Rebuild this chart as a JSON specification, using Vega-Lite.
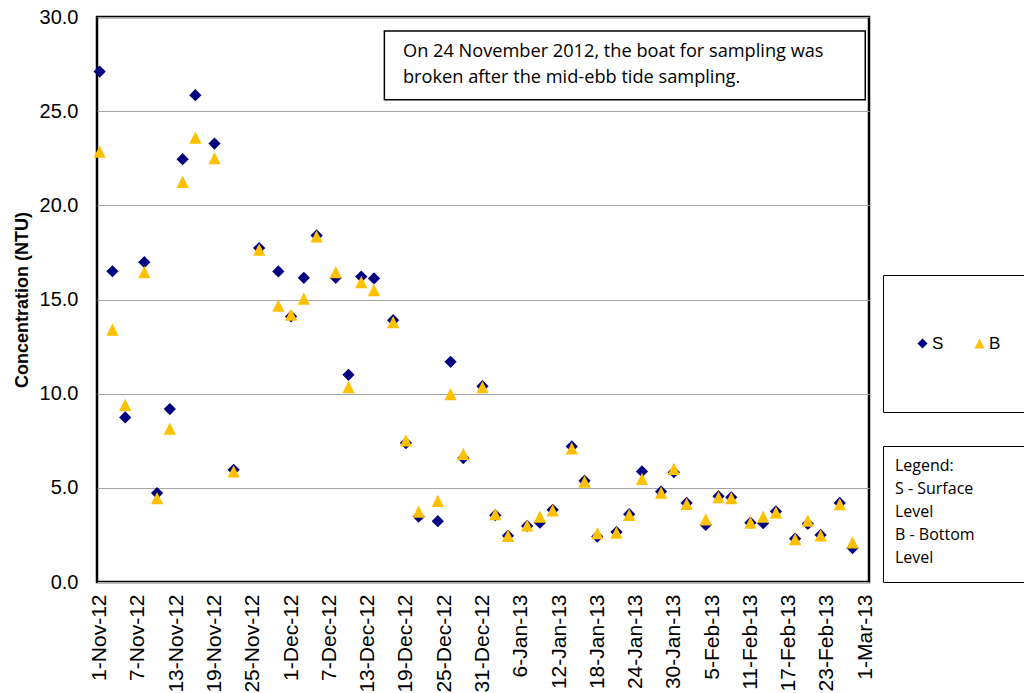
{
  "$schema": "https://vega.github.io/schema/vega-lite/v6.json",
  "autosize": {"type": "none"},
  "padding": {"left": 97, "top": 17, "right": 155, "bottom": 111},
  "width": 772,
  "height": 565,
  "background": "white",
  "config": {
    "view": {"stroke": "black", "strokeWidth": 2.5},
    "font": "Liberation Sans",
    "axis": {"labelOverlap": false, "labelSeparation": 0},
    "axisX": {
      "title": null,
      "orient": "bottom",
      "format": "%-d-%b-%y",
      "labelAngle": 270,
      "labelFont": "Liberation Sans",
      "labelFontSize": 21,
      "labelColor": "black",
      "labelPadding": 12,
      "labelOverlap": false,
      "labelFlush": false,
      "ticks": false,
      "domain": false,
      "grid": false
    }
  },
  "resolve": {"axis": {"x": "independent"}},
  "layer": [
    {
      "data": {"values": [
        {"date": "2012/11/01", "series": "S", "value": 27.1},
        {"date": "2012/11/03", "series": "S", "value": 16.5},
        {"date": "2012/11/05", "series": "S", "value": 8.74},
        {"date": "2012/11/08", "series": "S", "value": 16.98},
        {"date": "2012/11/10", "series": "S", "value": 4.72},
        {"date": "2012/11/12", "series": "S", "value": 9.18},
        {"date": "2012/11/14", "series": "S", "value": 22.45},
        {"date": "2012/11/16", "series": "S", "value": 25.85},
        {"date": "2012/11/19", "series": "S", "value": 23.28},
        {"date": "2012/11/22", "series": "S", "value": 5.96},
        {"date": "2012/11/26", "series": "S", "value": 17.73},
        {"date": "2012/11/29", "series": "S", "value": 16.49},
        {"date": "2012/12/01", "series": "S", "value": 14.1},
        {"date": "2012/12/03", "series": "S", "value": 16.15},
        {"date": "2012/12/05", "series": "S", "value": 18.4},
        {"date": "2012/12/08", "series": "S", "value": 16.15},
        {"date": "2012/12/10", "series": "S", "value": 11.0},
        {"date": "2012/12/12", "series": "S", "value": 16.22},
        {"date": "2012/12/14", "series": "S", "value": 16.12},
        {"date": "2012/12/17", "series": "S", "value": 13.9},
        {"date": "2012/12/19", "series": "S", "value": 7.38},
        {"date": "2012/12/21", "series": "S", "value": 3.47},
        {"date": "2012/12/24", "series": "S", "value": 3.23},
        {"date": "2012/12/26", "series": "S", "value": 11.69},
        {"date": "2012/12/28", "series": "S", "value": 6.58},
        {"date": "2012/12/31", "series": "S", "value": 10.4},
        {"date": "2013/01/02", "series": "S", "value": 3.55},
        {"date": "2013/01/04", "series": "S", "value": 2.45},
        {"date": "2013/01/07", "series": "S", "value": 2.98},
        {"date": "2013/01/09", "series": "S", "value": 3.15},
        {"date": "2013/01/11", "series": "S", "value": 3.83},
        {"date": "2013/01/14", "series": "S", "value": 7.2},
        {"date": "2013/01/16", "series": "S", "value": 5.37},
        {"date": "2013/01/18", "series": "S", "value": 2.41},
        {"date": "2013/01/21", "series": "S", "value": 2.65},
        {"date": "2013/01/23", "series": "S", "value": 3.6},
        {"date": "2013/01/25", "series": "S", "value": 5.87},
        {"date": "2013/01/28", "series": "S", "value": 4.8},
        {"date": "2013/01/30", "series": "S", "value": 5.83},
        {"date": "2013/02/01", "series": "S", "value": 4.2},
        {"date": "2013/02/04", "series": "S", "value": 3.03},
        {"date": "2013/02/06", "series": "S", "value": 4.55},
        {"date": "2013/02/08", "series": "S", "value": 4.5},
        {"date": "2013/02/11", "series": "S", "value": 3.15},
        {"date": "2013/02/13", "series": "S", "value": 3.12},
        {"date": "2013/02/15", "series": "S", "value": 3.75},
        {"date": "2013/02/18", "series": "S", "value": 2.3},
        {"date": "2013/02/20", "series": "S", "value": 3.09},
        {"date": "2013/02/22", "series": "S", "value": 2.5},
        {"date": "2013/02/25", "series": "S", "value": 4.2},
        {"date": "2013/02/27", "series": "S", "value": 1.8},
        {"date": "2012/11/01", "series": "B", "value": 22.85},
        {"date": "2012/11/03", "series": "B", "value": 13.4},
        {"date": "2012/11/05", "series": "B", "value": 9.41},
        {"date": "2012/11/08", "series": "B", "value": 16.45},
        {"date": "2012/11/10", "series": "B", "value": 4.45},
        {"date": "2012/11/12", "series": "B", "value": 8.14},
        {"date": "2012/11/14", "series": "B", "value": 21.24},
        {"date": "2012/11/16", "series": "B", "value": 23.6},
        {"date": "2012/11/19", "series": "B", "value": 22.5},
        {"date": "2012/11/22", "series": "B", "value": 5.87},
        {"date": "2012/11/26", "series": "B", "value": 17.65},
        {"date": "2012/11/29", "series": "B", "value": 14.68},
        {"date": "2012/12/01", "series": "B", "value": 14.2},
        {"date": "2012/12/03", "series": "B", "value": 15.05},
        {"date": "2012/12/05", "series": "B", "value": 18.35},
        {"date": "2012/12/08", "series": "B", "value": 16.45},
        {"date": "2012/12/10", "series": "B", "value": 10.35},
        {"date": "2012/12/12", "series": "B", "value": 15.92},
        {"date": "2012/12/14", "series": "B", "value": 15.5},
        {"date": "2012/12/17", "series": "B", "value": 13.8},
        {"date": "2012/12/19", "series": "B", "value": 7.52},
        {"date": "2012/12/21", "series": "B", "value": 3.74},
        {"date": "2012/12/24", "series": "B", "value": 4.31},
        {"date": "2012/12/26", "series": "B", "value": 9.98},
        {"date": "2012/12/28", "series": "B", "value": 6.8},
        {"date": "2012/12/31", "series": "B", "value": 10.35},
        {"date": "2013/01/02", "series": "B", "value": 3.6},
        {"date": "2013/01/04", "series": "B", "value": 2.45},
        {"date": "2013/01/07", "series": "B", "value": 3.0},
        {"date": "2013/01/09", "series": "B", "value": 3.47},
        {"date": "2013/01/11", "series": "B", "value": 3.8},
        {"date": "2013/01/14", "series": "B", "value": 7.1},
        {"date": "2013/01/16", "series": "B", "value": 5.33},
        {"date": "2013/01/18", "series": "B", "value": 2.59},
        {"date": "2013/01/21", "series": "B", "value": 2.62},
        {"date": "2013/01/23", "series": "B", "value": 3.56},
        {"date": "2013/01/25", "series": "B", "value": 5.48},
        {"date": "2013/01/28", "series": "B", "value": 4.75},
        {"date": "2013/01/30", "series": "B", "value": 6.01},
        {"date": "2013/02/01", "series": "B", "value": 4.15},
        {"date": "2013/02/04", "series": "B", "value": 3.33},
        {"date": "2013/02/06", "series": "B", "value": 4.5},
        {"date": "2013/02/08", "series": "B", "value": 4.45},
        {"date": "2013/02/11", "series": "B", "value": 3.15},
        {"date": "2013/02/13", "series": "B", "value": 3.47},
        {"date": "2013/02/15", "series": "B", "value": 3.7},
        {"date": "2013/02/18", "series": "B", "value": 2.27},
        {"date": "2013/02/20", "series": "B", "value": 3.26},
        {"date": "2013/02/22", "series": "B", "value": 2.47},
        {"date": "2013/02/25", "series": "B", "value": 4.13},
        {"date": "2013/02/27", "series": "B", "value": 2.1}
      ]},
      "mark": {"type": "point", "filled": true, "size": 150, "opacity": 1, "strokeWidth": 0},
      "encoding": {
        "x": {
          "field": "date", "type": "temporal",
          "scale": {"domain": [
            {"year": 2012, "month": "Oct", "date": 31, "hours": 14},
            {"year": 2013, "month": "Mar", "date": 1, "hours": 14}
          ]},
          "axis": {
            "title": null,
            "orient": "bottom",
            "labelOverlap": false,
            "values": [
              {"year": 2012, "month": "Nov", "date": 1},
              {"year": 2012, "month": "Nov", "date": 13},
              {"year": 2012, "month": "Nov", "date": 25},
              {"year": 2012, "month": "Dec", "date": 7},
              {"year": 2012, "month": "Dec", "date": 19},
              {"year": 2012, "month": "Dec", "date": 31},
              {"year": 2013, "month": "Jan", "date": 12},
              {"year": 2013, "month": "Jan", "date": 24},
              {"year": 2013, "month": "Feb", "date": 5},
              {"year": 2013, "month": "Feb", "date": 17},
              {"year": 2013, "month": "Mar", "date": 1}
            ]
          }
        },
        "y": {
          "field": "value", "type": "quantitative",
          "scale": {"domain": [0, 30], "nice": false, "zero": true},
          "axis": {
            "title": "Concentration (NTU)",
            "titleFont": "Liberation Sans",
            "titleFontSize": 18,
            "titleFontWeight": "bold",
            "titleColor": "black",
            "titlePadding": 8,
            "values": [0, 5, 10, 15, 20, 25, 30],
            "format": ".1f",
            "labelFont": "Liberation Sans",
            "labelFontSize": 20,
            "labelColor": "black",
            "labelPadding": 19,
            "labelFlush": false,
            "ticks": false,
            "domain": false,
            "grid": true,
            "gridColor": "#a6a6a6",
            "gridWidth": 1
          }
        },
        "color": {
          "field": "series", "type": "nominal",
          "scale": {"domain": ["S", "B"], "range": ["#000080", "#FFC000"]},
          "legend": {
            "title": null,
            "orient": "none",
            "legendX": 786,
            "legendY": 258,
            "direction": "horizontal",
            "padding": 31,
            "clipHeight": 75,
            "columnPadding": 27,
            "strokeColor": "black",
            "fillColor": "white",
            "symbolSize": 100,
            "symbolStrokeWidth": 0,
            "labelFont": "Liberation Sans",
            "labelFontSize": 17,
            "labelColor": "black",
            "labelOffset": 1,
            "encode": {"legend": {"update": {"strokeWidth": {"value": 1.5}}}}
          }
        },
        "shape": {
          "field": "series", "type": "nominal",
          "scale": {"domain": ["S", "B"], "range": ["diamond", "M0,-1L1,1L-1,1Z"]}
        },
        "opacity": {
          "field": "series", "type": "nominal",
          "scale": {"domain": ["B", "S"], "range": [1, 1]},
          "legend": {
            "title": ["Legend:", "S - Surface", "Level", "B - Bottom", "Level"],
            "titleFont": "Open Sans",
            "titleFontSize": 16,
            "titleFontWeight": "normal",
            "titleColor": "black",
            "titleLineHeight": 23,
            "titleBaseline": "top",
            "titlePadding": 0,
            "values": ["S"],
            "labelExpr": "'MMMMMMMMMMMMMMMMMMMMMMMMMMMMMMMMMMMMMMMMMMMMMMMMMMMMMMMMMMMMMMMMMMMMMMMMMMMMMMMMMMMMMMMMMMMMMMMMMMMMMMMMMMMMMMMMMMMMMMMMMMMMMMMMMMMMMMMMMMMMMMMMMMMMMMMMMMMMMMMMMMMMMMMMMMMMMMMMM'",
            "labelLimit": 2000,
            "labelOpacity": 0,
            "orient": "none",
            "legendX": 786,
            "legendY": 429,
            "padding": 12,
            "strokeColor": "black",
            "fillColor": "white",
            "symbolSize": 0,
            "symbolOpacity": 0,
            "labelFontSize": 1,
            "labelOffset": 0,
            "encode": {
              "title": {"update": {"dx": {"value": 6}, "dy": {"value": 1}}},
              "legend": {"update": {"strokeWidth": {"value": 1.5}}}
            }
          }
        }
      }
    },
    {
      "data": {"values": [{}]},
      "mark": {"type": "rect", "fill": "white", "stroke": "black", "strokeWidth": 1.5},
      "encoding": {
        "x": {
          "datum": {"year": 2012, "month": "Dec", "date": 15, "hours": 15}, "type": "temporal",
          "axis": {
            "title": null,
            "orient": "bottom",
            "labelOverlap": false,
            "values": [
              {"year": 2012, "month": "Nov", "date": 7},
              {"year": 2012, "month": "Nov", "date": 19},
              {"year": 2012, "month": "Dec", "date": 1},
              {"year": 2012, "month": "Dec", "date": 13},
              {"year": 2012, "month": "Dec", "date": 25},
              {"year": 2013, "month": "Jan", "date": 6},
              {"year": 2013, "month": "Jan", "date": 18},
              {"year": 2013, "month": "Jan", "date": 30},
              {"year": 2013, "month": "Feb", "date": 11},
              {"year": 2013, "month": "Feb", "date": 23}
            ]
          }
        },
        "x2": {"datum": {"year": 2013, "month": "Mar", "date": 1, "hours": 0}},
        "y": {"datum": 29.26, "type": "quantitative"},
        "y2": {"datum": 25.6}
      }
    },
    {
      "data": {"values": [{}]},
      "mark": {
        "type": "text",
        "text": ["On 24 November 2012, the boat for sampling was", "broken after the mid-ebb tide sampling."],
        "font": "Open Sans",
        "fontSize": 18.2,
        "color": "black",
        "align": "left",
        "baseline": "middle",
        "lineHeight": 26
      },
      "encoding": {
        "x": {"datum": {"year": 2012, "month": "Dec", "date": 18, "hours": 13}, "type": "temporal", "axis": null},
        "y": {"datum": 28.16, "type": "quantitative"}
      }
    }
  ]
}
